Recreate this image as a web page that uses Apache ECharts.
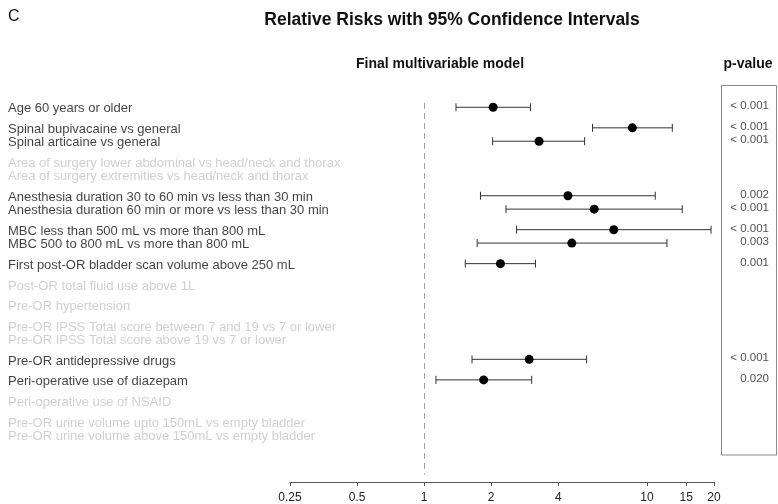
<!DOCTYPE html>
<html>
<head>
<meta charset="utf-8">
<script src="https://cdn.jsdelivr.net/npm/echarts@6/dist/echarts.min.js"></script>
<style>html,body{margin:0;padding:0;background:#fff}#c{width:778px;height:504px}</style>
</head>
<body>
<div id="c"></div>
<script>
// ---- data ----
const labels = [
  'Age 60 years or older',
  'Spinal bupivacaine vs general',
  'Spinal articaine vs general',
  'Area of surgery lower abdominal vs head/neck and thorax',
  'Area of surgery extremities vs head/neck and thorax',
  'Anesthesia duration 30 to 60 min vs less than 30 min',
  'Anesthesia duration 60 min or more vs less than 30 min',
  'MBC less than 500 mL vs more than 800 mL',
  'MBC 500 to 800 mL vs more than 800 mL',
  'First post-OR bladder scan volume above 250 mL',
  'Post-OR total fluid use above 1L',
  'Pre-OR hypertension',
  'Pre-OR IPSS Total score between 7 and 19 vs 7 or lower',
  'Pre-OR IPSS Total score above 19 vs 7 or lower',
  'Pre-OR antidepressive drugs',
  'Peri-operative use of diazepam',
  'Peri-operative use of NSAID',
  'Pre-OR urine volume upto 150mL vs empty bladder',
  'Pre-OR urine volume above 150mL vs empty bladder'
];
const groups = [0,1,1,2,2,3,3,4,4,5,6,7,8,8,9,10,11,12,12];
const rr    = [2.04, 8.6, 3.28, null, null, 4.42, 5.8, 7.1, 4.6, 2.2, null, null, null, null, 2.96, 1.85, null, null, null];
const lower = [1.39, 5.7, 2.03, null, null, 1.79, 2.33, 2.6, 1.73, 1.53, null, null, null, null, 1.64, 1.13, null, null, null];
const upper = [3.0, 13.0, 5.25, null, null, 10.9, 14.4, 19.4, 12.3, 3.16, null, null, null, null, 5.36, 3.04, null, null, null];
const pvals = ['< 0.001','< 0.001','< 0.001','','','0.002','< 0.001','< 0.001','0.003','0.001','','','','','< 0.001','0.020','','',''];
const xTicks = [0.25, 0.5, 1, 2, 4, 10, 15, 20];
const refValue = 1;

// ---- layout (row positions from group structure) ----
const GROUP_GAP = 1.537;
const pos = [];
groups.forEach((g, i) => {
  if (i === 0) pos.push(0);
  else pos.push(pos[i-1] + (g !== groups[i-1] ? GROUP_GAP : 1));
});

const FONT = 'Liberation Sans, Arial, sans-serif';
const Y_MIN = -2, Y_MAX = 28;
const gridTop = 80.5, gridBottom = 21.5;

const ciData = [], ptData = [], labData = [], pData = [];
labels.forEach((l, i) => {
  labData.push({value: [0, pos[i]], label: {color: rr[i] == null ? '#c4c4c4' : '#111'}, name: l});
  if (rr[i] != null) {
    ciData.push([lower[i], upper[i], pos[i]]);
    ptData.push([rr[i], pos[i]]);
  }
  if (pvals[i]) pData.push({value: [1, pos[i]], name: pvals[i]});
});

const yAx = (gi) => ({type: 'value', gridIndex: gi, min: Y_MIN, max: Y_MAX, inverse: true, show: false});

const option = {
  animation: false,
  backgroundColor: '#fff',
  textStyle: {fontFamily: FONT},
  title: [
    {text: 'C', left: 3, top: 4, textStyle: {fontFamily: FONT, fontWeight: 'normal', fontSize: 16, color: '#111'}},
    {text: 'Relative Risks with 95% Confidence Intervals', left: 447, top: 6, textAlign: 'center',
     textStyle: {fontFamily: FONT, fontWeight: 'bold', fontSize: 17.5, color: '#111'}},
    {text: 'Final multivariable model', left: 435, top: 52, textAlign: 'center',
     textStyle: {fontFamily: FONT, fontWeight: 'bold', fontSize: 14, color: '#111'}},
    {text: 'p-value', left: 743, top: 52, textAlign: 'center',
     textStyle: {fontFamily: FONT, fontWeight: 'bold', fontSize: 14, color: '#111'}}
  ],
  grid: [
    {left: 290, right: 64, top: gridTop, bottom: gridBottom},
    {left: 721, right: 9, top: gridTop, bottom: gridBottom},
    {left: 8, right: 470, top: gridTop, bottom: gridBottom}
  ],
  xAxis: [
    {type: 'log', logBase: 2, gridIndex: 0, min: 0.25, max: 20, position: 'bottom',
     axisLine: {show: true, onZero: false, lineStyle: {color: '#555', width: 1}},
     axisTick: {show: true, length: 4, inside: false, customValues: xTicks, lineStyle: {color: '#555'}},
     axisLabel: {show: true, customValues: xTicks, margin: 10, fontSize: 12, color: '#222', fontFamily: FONT,
                 formatter: v => String(+v.toPrecision(4))},
     splitLine: {show: false}, minorTick: {show: false}},
    {type: 'value', gridIndex: 1, min: 0, max: 1, show: false},
    {type: 'value', gridIndex: 2, min: 0, max: 1, show: false}
  ],
  yAxis: [yAx(0), yAx(1), yAx(2)],
  graphic: [
    {type: 'rect', shape: {x: 721.5, y: 85.5, width: 55, height: 369.5},
     style: {fill: 'none', stroke: '#8a8a8a', lineWidth: 1}, silent: true}
  ],
  series: [
    {
      type: 'custom', xAxisIndex: 0, yAxisIndex: 0, clip: false,
      data: ciData,
      encode: {x: [0, 1], y: 2},
      renderItem: function (params, api) {
        const a = api.coord([api.value(0), api.value(2)]);
        const b = api.coord([api.value(1), api.value(2)]);
        const h = 4;
        const st = {stroke: '#333', lineWidth: 1};
        return {type: 'group', children: [
          {type: 'line', shape: {x1: a[0], y1: a[1], x2: b[0], y2: b[1]}, style: st},
          {type: 'line', shape: {x1: a[0], y1: a[1]-h, x2: a[0], y2: a[1]+h}, style: st},
          {type: 'line', shape: {x1: b[0], y1: b[1]-h, x2: b[0], y2: b[1]+h}, style: st}
        ]};
      },
      markLine: {
        silent: true, symbol: ['none', 'none'], label: {show: false},
        lineStyle: {color: '#a0a0a0', type: [6, 4], width: 1},
        data: [[{coord: [refValue, -0.32]}, {coord: [refValue, 27.44]}]]
      },
      z: 2
    },
    {
      type: 'scatter', xAxisIndex: 0, yAxisIndex: 0, data: ptData,
      symbol: 'circle', symbolSize: 9, itemStyle: {color: '#000', opacity: 1}, z: 3
    },
    {
      type: 'scatter', xAxisIndex: 1, yAxisIndex: 1, data: pData, symbolSize: 0,
      label: {show: true, position: 'left', distance: 0, offset: [0, -1.5], formatter: p => p.name,
              fontSize: 11.5, color: '#222', fontFamily: FONT, align: 'right'}
    },
    {
      type: 'scatter', xAxisIndex: 2, yAxisIndex: 2, data: labData, symbolSize: 0,
      label: {show: true, position: 'right', distance: 0, offset: [0, 1.5], formatter: p => p.name,
              fontSize: 13, fontFamily: FONT, align: 'left'}
    }
  ]
};
const chart = echarts.init(document.getElementById('c'), null, {renderer: 'canvas'});
chart.setOption(option);
</script>
</body>
</html>
